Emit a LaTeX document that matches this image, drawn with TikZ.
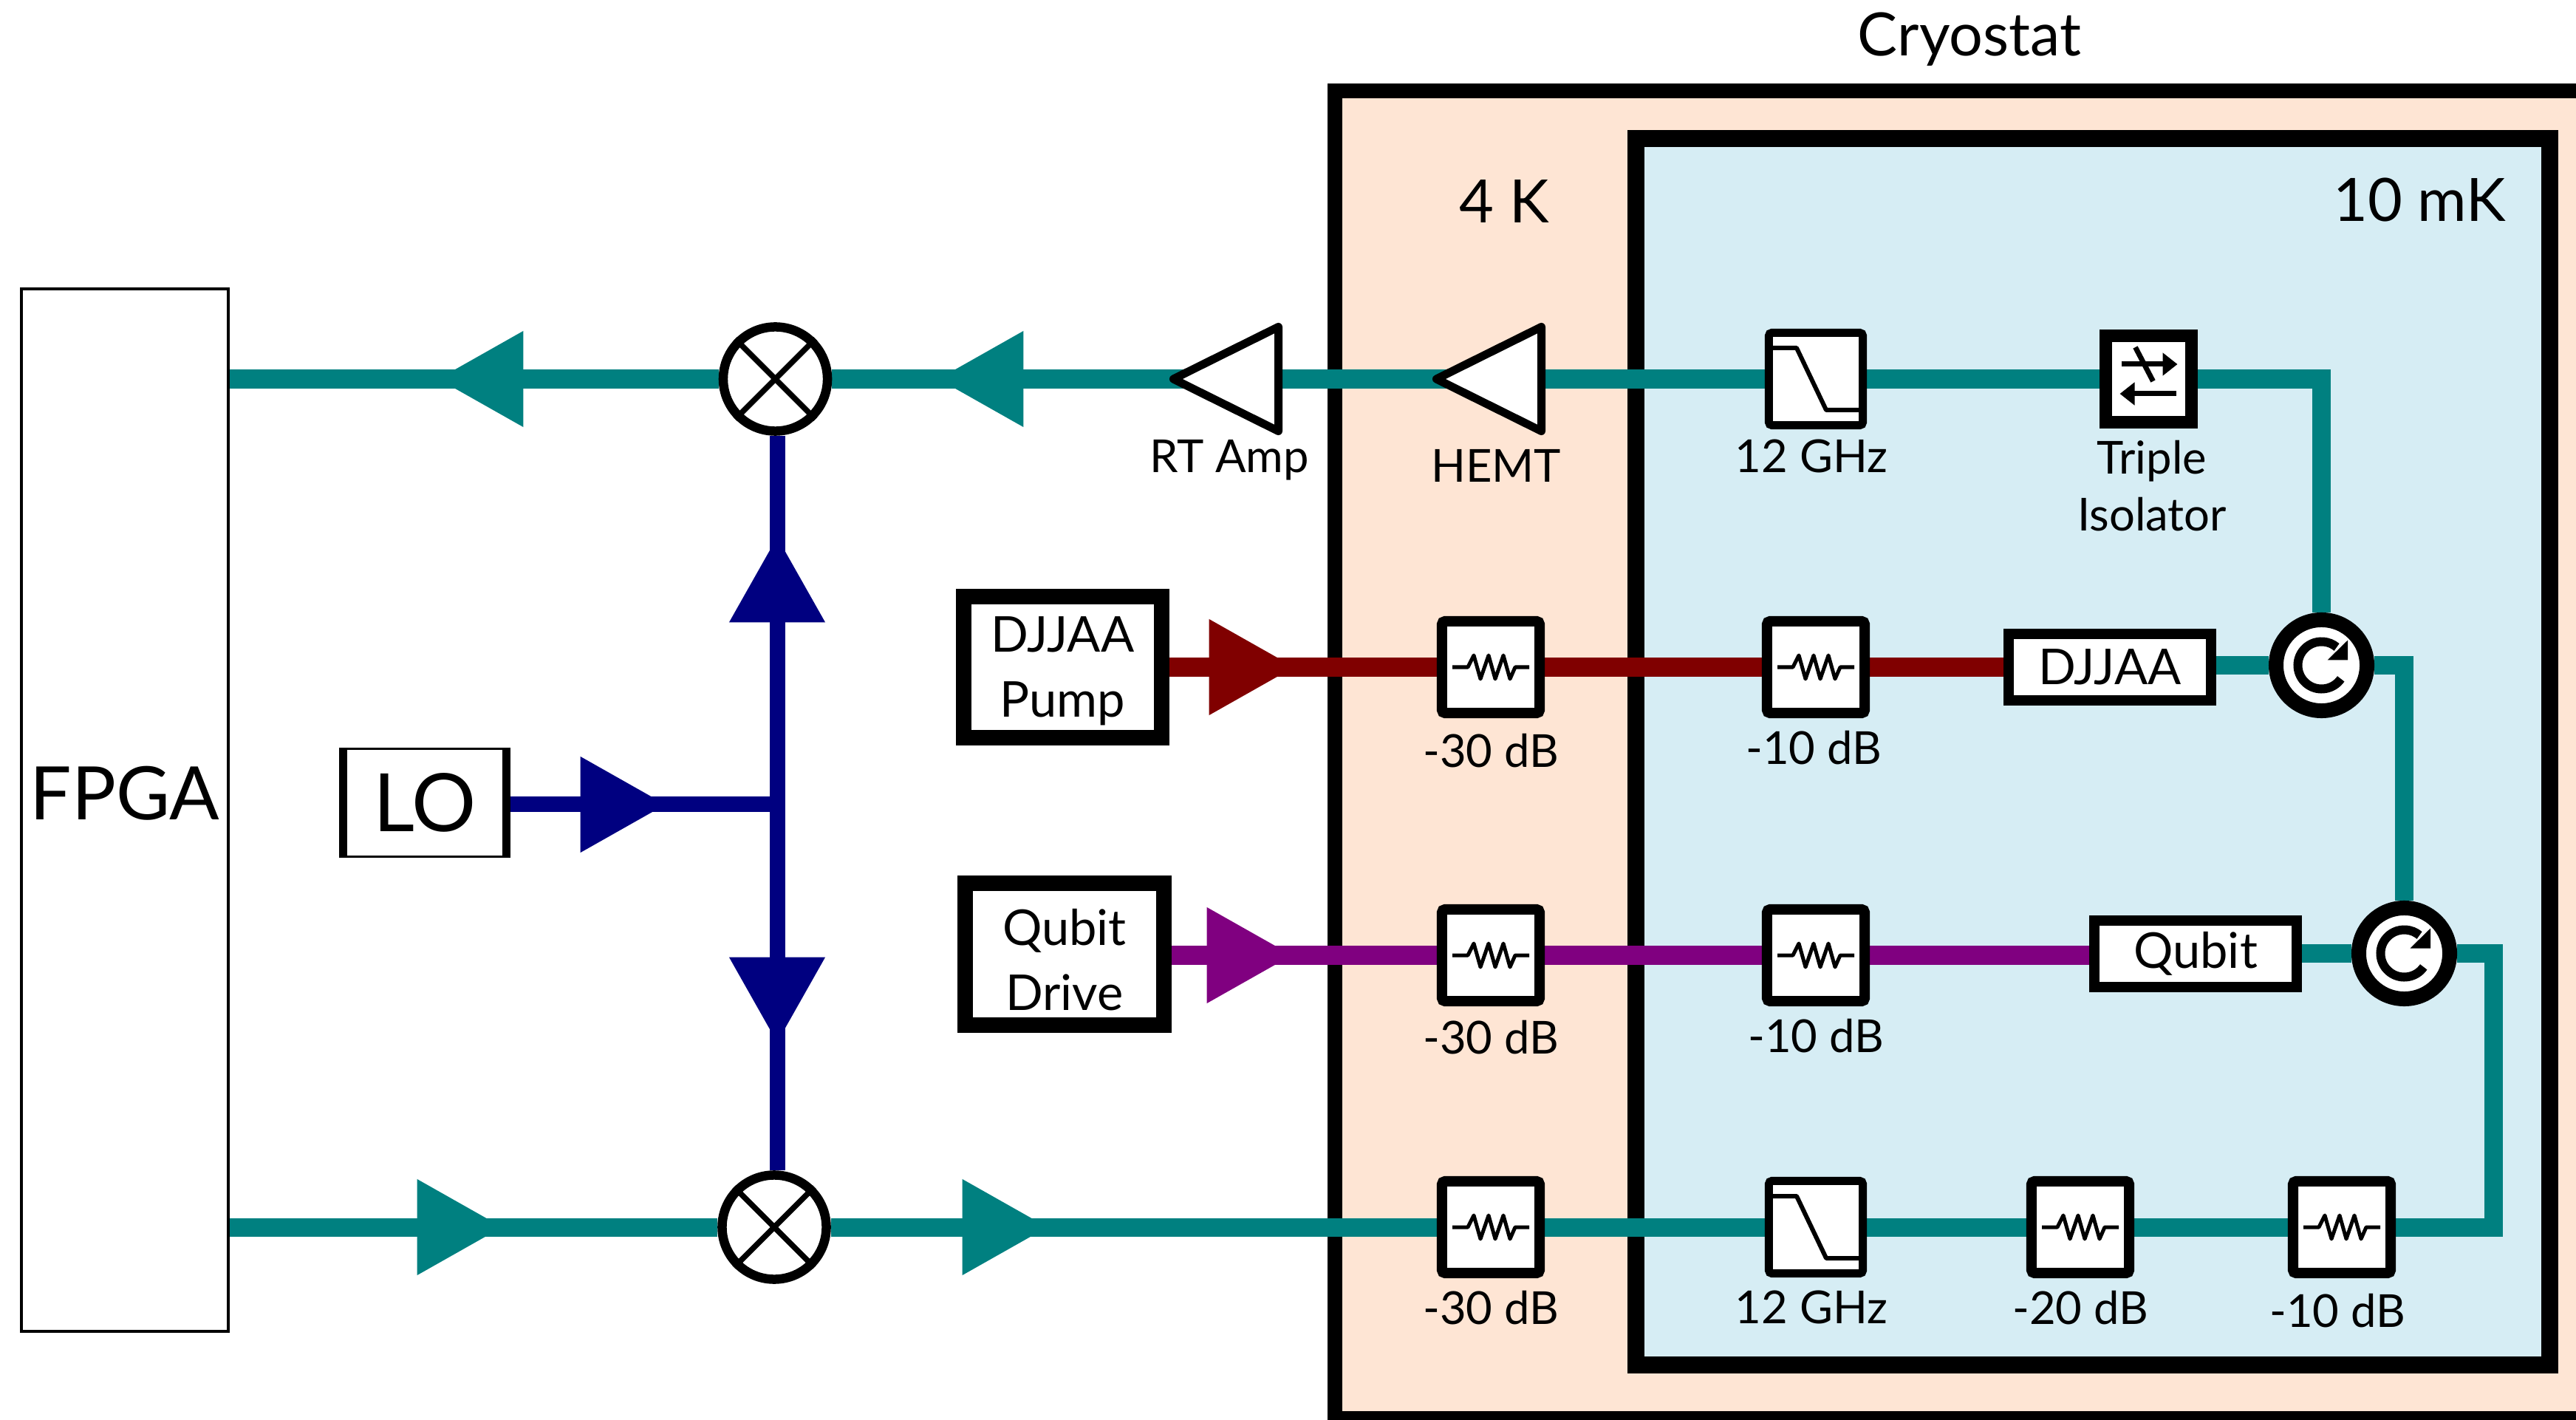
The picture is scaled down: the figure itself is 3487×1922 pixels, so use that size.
\documentclass[tikz,border=0pt]{standalone}
\usepackage{fontspec}
\setmainfont{Lato}
\usetikzlibrary{arrows.meta,positioning,shapes.geometric}
\pgfdeclarelayer{regions}
\pgfdeclarelayer{wires}
\pgfsetlayers{regions,wires,main}
\definecolor{warmfill}{RGB}{254,229,212}
\definecolor{coldfill}{RGB}{214,237,244}
\definecolor{readc}{RGB}{0,128,128}
\definecolor{loc}{RGB}{0,0,128}
\definecolor{pumpc}{RGB}{128,0,0}
\definecolor{drivec}{RGB}{128,0,128}
\tikzstyle{wire}=[
	line width=0.25cm
]
\tikzstyle{readwire}=[
	wire,
	draw=readc
]
\tikzstyle{lowire}=[
	wire,
	line width=0.21cm,
	draw=loc
]
\tikzstyle{pumpwire}=[
	wire,
	draw=pumpc
]
\tikzstyle{drivewire}=[
	wire,
	draw=drivec
]
\tikzstyle{flow}=[
	isosceles triangle,
	isosceles triangle stretches,
	inner sep=0,
	minimum width=1.3cm,
	minimum height=1.15cm,
	anchor=lower side
]
\tikzstyle{region}=[
	draw=black
]
\tikzstyle{amp}=[
	isosceles triangle,
	isosceles triangle stretches,
	inner sep=0,
	draw=black,
	fill=white,
	line width=0.11cm,
	line join=round,
	minimum width=1.41cm,
	minimum height=1.42cm,
	anchor=lower side,
	rotate=180
]
\tikzstyle{mixer}=[
	circle,
	draw=black,
	fill=white,
	inner sep=0,
	line width=0.125cm,
	minimum size=1.41cm
]
\tikzstyle{circulator}=[
	circle,
	draw=black,
	fill=white,
	inner sep=0,
	line width=0.2cm,
	minimum size=1.23cm
]
\tikzstyle{box}=[
	draw=black,
	fill=white,
	inner sep=0,
	align=center,
	font=\fontsize{19}{25}\selectfont
]
\tikzstyle{source}=[
	box,
	line width=0.21cm,
	minimum width=2.68cm,
	minimum height=1.915cm
]
\tikzstyle{device}=[
	box,
	line width=0.145cm,
	minimum width=2.74cm,
	minimum height=0.9cm
]
\tikzstyle{att}=[
	box,
	rounded corners=0.04cm,
	line width=0.14cm,
	minimum width=1.32cm,
	minimum height=1.24cm
]
\tikzstyle{lpf}=[
	box,
	rounded corners=0.04cm,
	line width=0.11cm,
	minimum width=1.27cm,
	minimum height=1.25cm
]
\tikzstyle{iso}=[
	box,
	line width=0.17cm,
	minimum size=1.16cm
]
\tikzstyle{plainlab}=[
	inner sep=0,
	align=center,
	font=\fontsize{17.5}{22}\selectfont
]
\tikzstyle{lab}=[
	plainlab,
	text height=0.44cm
]
\tikzstyle{biglab}=[
	inner sep=0,
	font=\fontsize{23}{28}\selectfont
]
\tikzstyle{glyph}=[
	draw=black,
	line width=0.05cm,
	line join=round
]

\begin{document}
\begin{tikzpicture}[x=0.01cm, y=0.01cm]
\useasboundingbox (0,0) rectangle (3487,-1922);

\begin{pgfonlayer}{regions}
\draw[region, fill=warmfill, line width=0.2cm] (1807,-123) rectangle (3510,-1920);
\draw[region, fill=coldfill, line width=0.23cm] (2214,-188) rectangle (3451,-1847);
\end{pgfonlayer}

\node[biglab] (cryo) at (2666,-53) {Cryostat};
\node[biglab] (warm) at (2036,-273) {4 K};
\node[biglab] (cold) at (3275,-271) {10 mK};

\node[box, line width=0.04cm, minimum width=2.8cm, minimum height=14.11cm, font=\fontsize{28.4}{34}\selectfont] (fpga) at (169,-1096.5) {\raisebox{0.47cm}{FPGA}};
\node[box, line width=0.03cm, minimum width=2.28cm, minimum height=1.46cm, font=\fontsize{31}{36}\selectfont] (lo) at (575,-1086.5) {LO};
\draw[line width=0.11cm] ([xshift=0.055cm]lo.north west) to ([xshift=0.055cm]lo.south west);
\draw[line width=0.11cm] ([xshift=-0.055cm]lo.north east) to ([xshift=-0.055cm]lo.south east);

\node[mixer] (mix1) at (1049.5,-513) {};
\node[mixer] (mix2) at (1048,-1661) {};
\foreach \x in {mix1,mix2} {
    \draw[black, line width=0.075cm] (\x.45) to (\x.225);
    \draw[black, line width=0.075cm] (\x.135) to (\x.315);
}

\coordinate (tee) at (1052,-1088.5);
\coordinate (bend) at (3375,-1661);

\node[amp] (rtamp) at (1736,-513) {};
\node[amp] (hemt) at (2092,-513) {};
\node[lpf] (lpf1) at (2458,-513) {};
\node[iso] (isol) at (2908.5,-513) {};

\node[source] (pump) at (1438.5,-903) {\rule{0pt}{0.58cm}DJJAA\\Pump};
\node[att] (patt1) at (2018,-903) {};
\node[att] (patt2) at (2458,-903) {};
\node[device] (djjaa) at (2856,-903) {DJJAA};
\node[circulator] (circ1) at (3142.5,-900.5) {};

\node[source] (drive) at (1441,-1291.5) {\rule{0pt}{0.64cm}Qubit\\Drive};
\node[att] (datt1) at (2018,-1293) {};
\node[att] (datt2) at (2458,-1293) {};
\node[device] (qubit) at (2972,-1291) {Qubit};
\node[circulator] (circ2) at (3254.5,-1290.5) {};

\node[att] (ratt1) at (2018,-1661) {};
\node[lpf] (lpf2) at (2458,-1661) {};
\node[att] (ratt2) at (2816,-1661) {};
\node[att] (ratt3) at (3170,-1661) {};

\begin{pgfonlayer}{wires}
\draw[readwire] (isol) -| (circ1);
\draw[readwire] (lpf1) to (isol);
\draw[readwire] (hemt.center) to (lpf1);
\draw[readwire] (rtamp.center) to (hemt.center);
\draw[readwire] (mix1) to (rtamp.center);
\draw[readwire] (mix1) to (fpga.east |- mix1);

\draw[pumpwire] (pump) to (patt1);
\draw[pumpwire] (patt1) to (patt2);
\draw[pumpwire] (patt2) to (djjaa);
\draw[readwire] (djjaa.east |- circ1) to (circ1);
\draw[readwire] (circ1) -| (circ2);

\draw[drivewire] (drive.east |- datt1) to (datt1);
\draw[drivewire] (datt1) to (datt2);
\draw[drivewire] (datt2) to (qubit.west |- datt2);
\draw[readwire] (qubit.east |- circ2) to (circ2);
\draw[readwire] (circ2) -| (bend) -- (ratt3);

\draw[readwire] (ratt3) to (ratt2);
\draw[readwire] (ratt2) to (lpf2);
\draw[readwire] (lpf2) to (ratt1);
\draw[readwire] (ratt1) to (mix2);
\draw[readwire] (mix2) to (fpga.east |- mix2);

\draw[lowire] (lo.east |- tee) to (tee);
\draw[lowire] (tee |- mix1.south) to (tee |- mix2.north);
\end{pgfonlayer}

\node[flow, fill=readc, rotate=180] (r1) at (709,-513) {};
\node[flow, fill=readc, rotate=180] (r2) at (1386,-513) {};
\node[flow, fill=readc] (r3) at (564,-1661) {};
\node[flow, fill=readc] (r4) at (1302,-1661) {};
\node[flow, fill=loc, rotate=90] (l1) at (1052,-843) {};
\node[flow, fill=loc, rotate=270] (l2) at (1052,-1295) {};
\node[flow, fill=loc] (l3) at (785,-1089) {};
\node[flow, fill=pumpc] (p1) at (1636,-903) {};
\node[flow, fill=drivec] (d1) at (1633,-1293) {};

\foreach \x in {patt1,patt2,datt1,datt2,ratt1,ratt2,ratt3} {
    \draw[glyph, shift={(\x.center)}] (-52,0) -- (-31,0) -- (-23,16) -- (-14,-16) -- (-3,16) -- (6,-16) -- (17,16) -- (26,-16) -- (33,0) -- (52,0);
}
\foreach \x in {lpf1,lpf2} {
    \draw[glyph, line width=0.06cm, shift={(\x.center)}] (-63,42) -- (-26,42) -- (14,-42) -- (63,-42);
}
\foreach \x in {circ1,circ2} {
    \draw[black, line width=0.12cm, shift={(\x.center)}] (-35:32) arc[start angle=-35, end angle=-310, radius=0.32cm];
    \fill[black, shift={(\x.center)}] (35.5,34) -- (8,7) -- (35.5,7) -- cycle;
}

\draw[black, line width=0.07cm, -{Triangle[length=0.2cm, width=0.3cm]}, shift={(isol.center)}] (-37,20) -- (39,20);
\draw[black, line width=0.07cm, -{Triangle[length=0.2cm, width=0.3cm]}, shift={(isol.center)}] (37,-20) -- (-39,-20);
\draw[black, line width=0.07cm, shift={(isol.center)}] (-18,43) -- (6,-3);

\foreach \x/\t/\d/\e in {patt1/-30 dB/0/-4,patt2/-10 dB/-3/0,datt1/-30 dB/0/-2,datt2/-10 dB/0/0,ratt1/-30 dB/0/0,ratt2/-20 dB/0/0,ratt3/-10 dB/-6/-4,lpf1/12 GHz/-6/4,lpf2/12 GHz/-6/0} {
    \node[lab, below=0.18cm of \x, xshift=\d*0.01cm, yshift=\e*0.01cm] (\x lab) {\t};
}
\node[lab] (rtlab) at (1664,-623) {RT Amp};
\node[lab] (hemtlab) at (2025,-630) {HEMT};
\node[plainlab, anchor=north] (isollab) at (2913,-595) {Triple\\Isolator};

\end{tikzpicture}
\end{document}
